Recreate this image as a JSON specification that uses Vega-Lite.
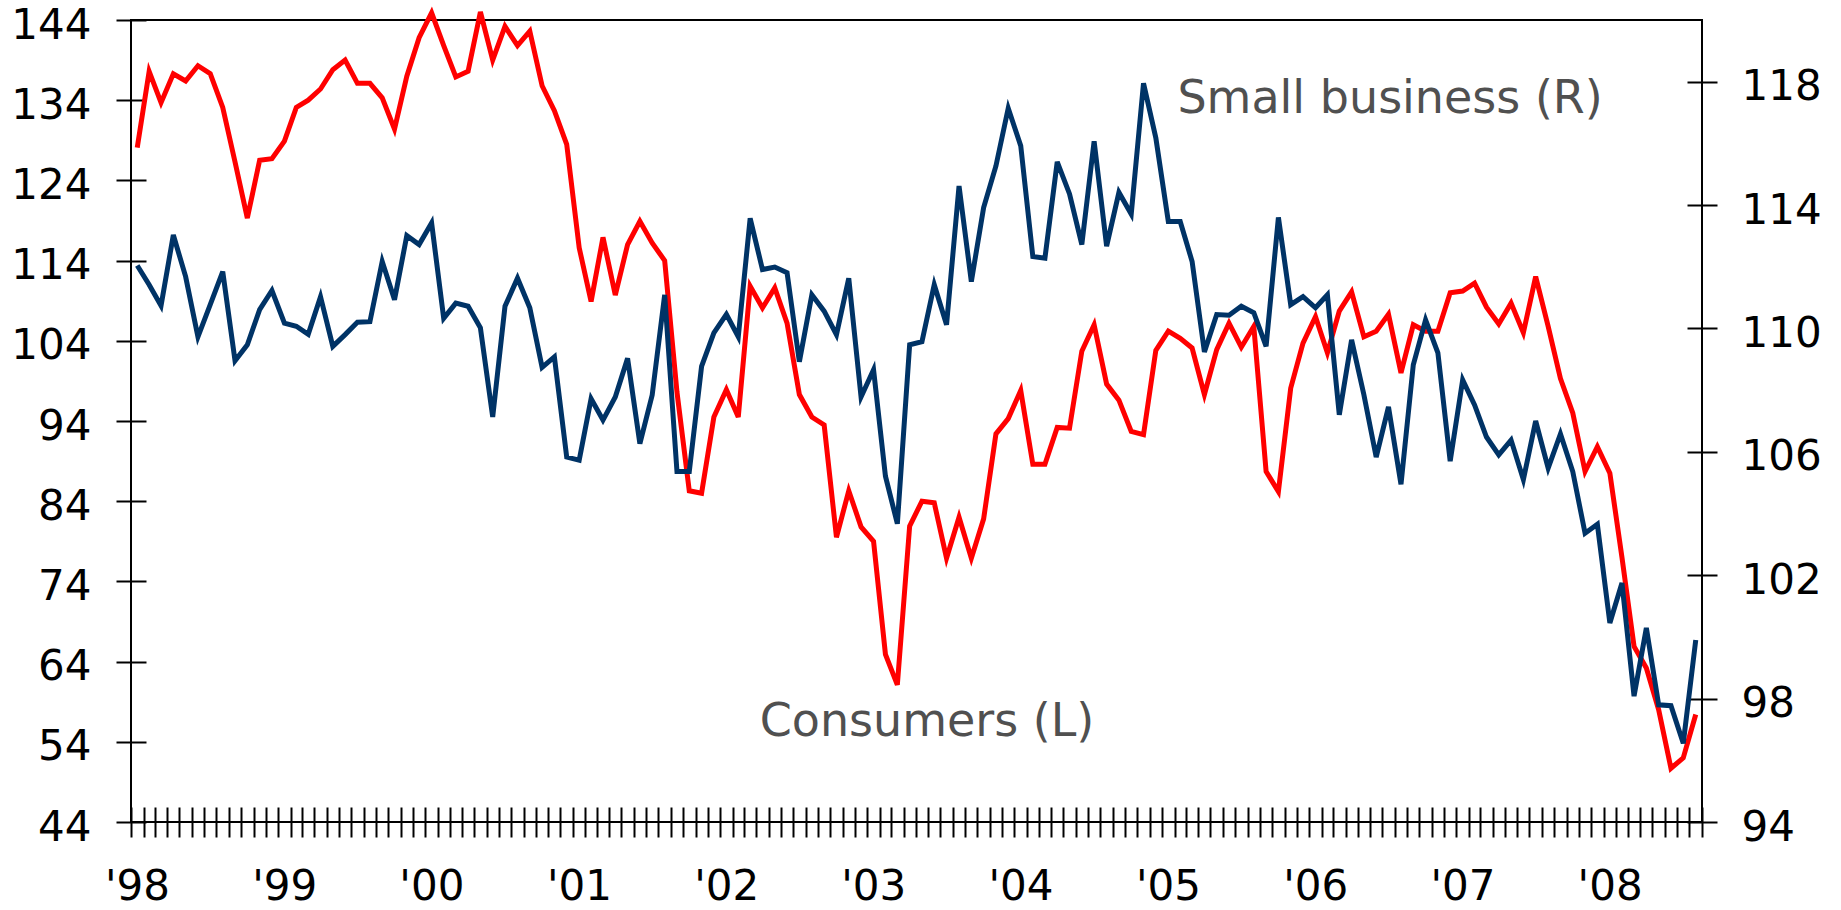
{
  "$schema": "https://vega.github.io/schema/vega-lite/v6.json",
  "width": 1571,
  "height": 802,
  "autosize": {"type": "none"},
  "padding": {"left": 131, "top": 20, "right": 139, "bottom": 88},
  "background": "white",
  "view": {"stroke": "black", "strokeWidth": 2},
  "config": {"font": "DejaVu Sans"},
  "data": {"values": [
    {"date": "1998-01-01", "consumers": 128.1, "small": 112.04},
    {"date": "1998-02-01", "consumers": 137.6, "small": 111.42},
    {"date": "1998-03-01", "consumers": 133.7, "small": 110.74},
    {"date": "1998-04-01", "consumers": 137.3, "small": 113.03},
    {"date": "1998-05-01", "consumers": 136.4, "small": 111.68},
    {"date": "1998-06-01", "consumers": 138.3, "small": 109.73},
    {"date": "1998-07-01", "consumers": 137.3, "small": 110.77},
    {"date": "1998-08-01", "consumers": 133.1, "small": 111.84},
    {"date": "1998-09-01", "consumers": 126.3, "small": 108.95},
    {"date": "1998-10-01", "consumers": 119.3, "small": 109.47},
    {"date": "1998-11-01", "consumers": 126.5, "small": 110.61},
    {"date": "1998-12-01", "consumers": 126.7, "small": 111.23},
    {"date": "1999-01-01", "consumers": 128.9, "small": 110.17},
    {"date": "1999-02-01", "consumers": 133.1, "small": 110.07},
    {"date": "1999-03-01", "consumers": 134.0, "small": 109.81},
    {"date": "1999-04-01", "consumers": 135.4, "small": 111.03},
    {"date": "1999-05-01", "consumers": 137.8, "small": 109.42},
    {"date": "1999-06-01", "consumers": 139.0, "small": 109.80},
    {"date": "1999-07-01", "consumers": 136.1, "small": 110.20},
    {"date": "1999-08-01", "consumers": 136.1, "small": 110.22},
    {"date": "1999-09-01", "consumers": 134.3, "small": 112.17},
    {"date": "1999-10-01", "consumers": 130.4, "small": 110.93},
    {"date": "1999-11-01", "consumers": 137.0, "small": 113.01},
    {"date": "1999-12-01", "consumers": 141.8, "small": 112.72},
    {"date": "2000-01-01", "consumers": 144.9, "small": 113.42},
    {"date": "2000-02-01", "consumers": 140.8, "small": 110.33},
    {"date": "2000-03-01", "consumers": 136.9, "small": 110.82},
    {"date": "2000-04-01", "consumers": 137.6, "small": 110.72},
    {"date": "2000-05-01", "consumers": 145.0, "small": 110.02},
    {"date": "2000-06-01", "consumers": 139.0, "small": 107.13},
    {"date": "2000-07-01", "consumers": 143.2, "small": 110.72},
    {"date": "2000-08-01", "consumers": 140.8, "small": 111.63},
    {"date": "2000-09-01", "consumers": 142.6, "small": 110.67},
    {"date": "2000-10-01", "consumers": 135.8, "small": 108.74},
    {"date": "2000-11-01", "consumers": 132.7, "small": 109.08},
    {"date": "2000-12-01", "consumers": 128.5, "small": 105.83},
    {"date": "2001-01-01", "consumers": 115.6, "small": 105.73},
    {"date": "2001-02-01", "consumers": 108.9, "small": 107.72},
    {"date": "2001-03-01", "consumers": 116.9, "small": 107.03},
    {"date": "2001-04-01", "consumers": 109.7, "small": 107.78},
    {"date": "2001-05-01", "consumers": 116.0, "small": 109.03},
    {"date": "2001-06-01", "consumers": 118.9, "small": 106.27},
    {"date": "2001-07-01", "consumers": 116.2, "small": 107.84},
    {"date": "2001-08-01", "consumers": 114.0, "small": 111.09},
    {"date": "2001-09-01", "consumers": 97.6, "small": 105.36},
    {"date": "2001-10-01", "consumers": 85.3, "small": 105.36},
    {"date": "2001-11-01", "consumers": 85.0, "small": 108.77},
    {"date": "2001-12-01", "consumers": 94.5, "small": 109.86},
    {"date": "2002-01-01", "consumers": 97.9, "small": 110.46},
    {"date": "2002-02-01", "consumers": 94.5, "small": 109.73},
    {"date": "2002-03-01", "consumers": 110.8, "small": 113.57},
    {"date": "2002-04-01", "consumers": 108.1, "small": 111.91},
    {"date": "2002-05-01", "consumers": 110.6, "small": 111.99},
    {"date": "2002-06-01", "consumers": 106.2, "small": 111.81},
    {"date": "2002-07-01", "consumers": 97.3, "small": 108.92},
    {"date": "2002-08-01", "consumers": 94.5, "small": 111.09},
    {"date": "2002-09-01", "consumers": 93.5, "small": 110.56},
    {"date": "2002-10-01", "consumers": 79.5, "small": 109.80},
    {"date": "2002-11-01", "consumers": 85.3, "small": 111.63},
    {"date": "2002-12-01", "consumers": 80.8, "small": 107.78},
    {"date": "2003-01-01", "consumers": 79.0, "small": 108.66},
    {"date": "2003-02-01", "consumers": 64.9, "small": 105.21},
    {"date": "2003-03-01", "consumers": 61.1, "small": 103.67},
    {"date": "2003-04-01", "consumers": 80.9, "small": 109.47},
    {"date": "2003-05-01", "consumers": 84.0, "small": 109.57},
    {"date": "2003-06-01", "consumers": 83.8, "small": 111.42},
    {"date": "2003-07-01", "consumers": 76.9, "small": 110.12},
    {"date": "2003-08-01", "consumers": 82.0, "small": 114.62},
    {"date": "2003-09-01", "consumers": 76.9, "small": 111.52},
    {"date": "2003-10-01", "consumers": 81.8, "small": 113.92},
    {"date": "2003-11-01", "consumers": 92.4, "small": 115.27},
    {"date": "2003-12-01", "consumers": 94.3, "small": 117.14},
    {"date": "2004-01-01", "consumers": 97.8, "small": 115.92},
    {"date": "2004-02-01", "consumers": 88.6, "small": 112.33},
    {"date": "2004-03-01", "consumers": 88.6, "small": 112.28},
    {"date": "2004-04-01", "consumers": 93.2, "small": 115.40},
    {"date": "2004-05-01", "consumers": 93.1, "small": 114.36},
    {"date": "2004-06-01", "consumers": 102.7, "small": 112.72},
    {"date": "2004-07-01", "consumers": 106.0, "small": 116.07},
    {"date": "2004-08-01", "consumers": 98.6, "small": 112.67},
    {"date": "2004-09-01", "consumers": 96.6, "small": 114.41},
    {"date": "2004-10-01", "consumers": 92.7, "small": 113.71},
    {"date": "2004-11-01", "consumers": 92.3, "small": 117.95},
    {"date": "2004-12-01", "consumers": 102.8, "small": 116.18},
    {"date": "2005-01-01", "consumers": 105.2, "small": 113.47},
    {"date": "2005-02-01", "consumers": 104.3, "small": 113.47},
    {"date": "2005-03-01", "consumers": 103.1, "small": 112.17},
    {"date": "2005-04-01", "consumers": 97.3, "small": 109.24},
    {"date": "2005-05-01", "consumers": 102.9, "small": 110.45},
    {"date": "2005-06-01", "consumers": 106.2, "small": 110.43},
    {"date": "2005-07-01", "consumers": 103.2, "small": 110.72},
    {"date": "2005-08-01", "consumers": 105.8, "small": 110.51},
    {"date": "2005-09-01", "consumers": 87.7, "small": 109.42},
    {"date": "2005-10-01", "consumers": 85.2, "small": 113.60},
    {"date": "2005-11-01", "consumers": 98.1, "small": 110.77},
    {"date": "2005-12-01", "consumers": 103.7, "small": 111.03},
    {"date": "2006-01-01", "consumers": 107.0, "small": 110.67},
    {"date": "2006-02-01", "consumers": 102.5, "small": 111.09},
    {"date": "2006-03-01", "consumers": 107.7, "small": 107.20},
    {"date": "2006-04-01", "consumers": 110.1, "small": 109.63},
    {"date": "2006-05-01", "consumers": 104.5, "small": 107.85},
    {"date": "2006-06-01", "consumers": 105.2, "small": 105.83},
    {"date": "2006-07-01", "consumers": 107.3, "small": 107.46},
    {"date": "2006-08-01", "consumers": 100.0, "small": 104.95},
    {"date": "2006-09-01", "consumers": 106.0, "small": 108.82},
    {"date": "2006-10-01", "consumers": 105.2, "small": 110.28},
    {"date": "2006-11-01", "consumers": 105.2, "small": 109.21},
    {"date": "2006-12-01", "consumers": 110.0, "small": 105.70},
    {"date": "2007-01-01", "consumers": 110.2, "small": 108.33},
    {"date": "2007-02-01", "consumers": 111.2, "small": 107.52},
    {"date": "2007-03-01", "consumers": 108.2, "small": 106.48},
    {"date": "2007-04-01", "consumers": 106.1, "small": 105.90},
    {"date": "2007-05-01", "consumers": 108.7, "small": 106.38},
    {"date": "2007-06-01", "consumers": 105.0, "small": 105.10},
    {"date": "2007-07-01", "consumers": 112.0, "small": 107.00},
    {"date": "2007-08-01", "consumers": 105.8, "small": 105.47},
    {"date": "2007-09-01", "consumers": 99.3, "small": 106.58},
    {"date": "2007-10-01", "consumers": 95.0, "small": 105.36},
    {"date": "2007-11-01", "consumers": 87.7, "small": 103.36},
    {"date": "2007-12-01", "consumers": 90.8, "small": 103.65},
    {"date": "2008-01-01", "consumers": 87.5, "small": 100.45},
    {"date": "2008-02-01", "consumers": 77.0, "small": 101.75},
    {"date": "2008-03-01", "consumers": 65.9, "small": 98.08},
    {"date": "2008-04-01", "consumers": 63.2, "small": 100.29},
    {"date": "2008-05-01", "consumers": 58.0, "small": 97.80},
    {"date": "2008-06-01", "consumers": 50.7, "small": 97.77},
    {"date": "2008-07-01", "consumers": 52.0, "small": 96.55},
    {"date": "2008-08-01", "consumers": 57.4, "small": 99.90}
  ]},
  "layer": [
    {
      "layer": [
        {
          "mark": {"type": "line", "color": "#FF0000", "strokeWidth": 5, "clip": false},
          "encoding": {
            "x": {
              "field": "date", "type": "temporal", "timeUnit": "utcyearmonth", "bandPosition": 0.5,
              "scale": {"type": "utc", "nice": false, "domain": [{"year": 1998, "month": 1, "date": 1, "utc": true}, {"year": 2008, "month": 9, "date": 1, "utc": true}]},
              "axis": {
                "orient": "bottom", "offset": -15, "tickSize": 30, "tickWidth": 2, "tickColor": "black",
                "domain": false, "grid": false, "title": null,
                "tickCount": {"interval": "month", "step": 1},
                "labelExpr": "utcmonth(datum.value) == 0 ? \"'\" + utcFormat(datum.value, '%y') : ''",
                "labelOffset": 6, "labelPadding": 29, "labelFontSize": 42, "labelColor": "black",
                "labelFont": "DejaVu Sans", "labelOverlap": false, "labelBound": false, "labelFlush": false
              }
            },
            "y": {
              "field": "consumers", "type": "quantitative",
              "scale": {"domain": [44, 144], "nice": false, "zero": false},
              "axis": {
                "orient": "left", "offset": -15, "tickSize": 30, "tickWidth": 2, "tickColor": "black",
                "domain": false, "grid": false, "title": null,
                "values": [44, 54, 64, 74, 84, 94, 104, 114, 124, 134, 144],
                "labelPadding": 25, "labelOffset": 5, "labelFontSize": 42, "labelColor": "black",
                "labelFont": "DejaVu Sans", "labelOverlap": false, "labelBound": false, "labelFlush": false
              }
            }
          }
        },
        {
          "data": {"values": [{}]},
          "mark": {"type": "text", "align": "left", "baseline": "alphabetic", "fontSize": 46, "font": "DejaVu Sans", "color": "#505050"},
          "encoding": {
            "x": {"datum": {"year": 2005, "month": 2, "date": 8, "utc": true}, "type": "temporal"},
            "y": {"datum": 132.4, "type": "quantitative"},
            "text": {"value": "Small business (R)"}
          }
        },
        {
          "data": {"values": [{}]},
          "mark": {"type": "text", "align": "left", "baseline": "alphabetic", "fontSize": 46, "font": "DejaVu Sans", "color": "#505050"},
          "encoding": {
            "x": {"datum": {"year": 2002, "month": 4, "date": 9, "utc": true}, "type": "temporal"},
            "y": {"datum": 54.7, "type": "quantitative"},
            "text": {"value": "Consumers (L)"}
          }
        }
      ]
    },
    {
      "mark": {"type": "line", "color": "#003366", "strokeWidth": 5, "clip": false},
      "encoding": {
        "x": {
          "field": "date", "type": "temporal", "timeUnit": "utcyearmonth", "bandPosition": 0.5
        },
        "y": {
          "field": "small", "type": "quantitative",
          "scale": {"domain": [94, 120], "nice": false, "zero": false},
          "axis": {
            "orient": "right", "offset": -15, "tickSize": 30, "tickWidth": 2, "tickColor": "black",
            "domain": false, "grid": false, "title": null,
            "values": [94, 98, 102, 106, 110, 114, 118],
            "labelPadding": 24, "labelOffset": 5, "labelFontSize": 42, "labelColor": "black",
            "labelFont": "DejaVu Sans", "labelOverlap": false, "labelBound": false, "labelFlush": false
          }
        }
      }
    }
  ],
  "resolve": {"scale": {"y": "independent"}}
}
